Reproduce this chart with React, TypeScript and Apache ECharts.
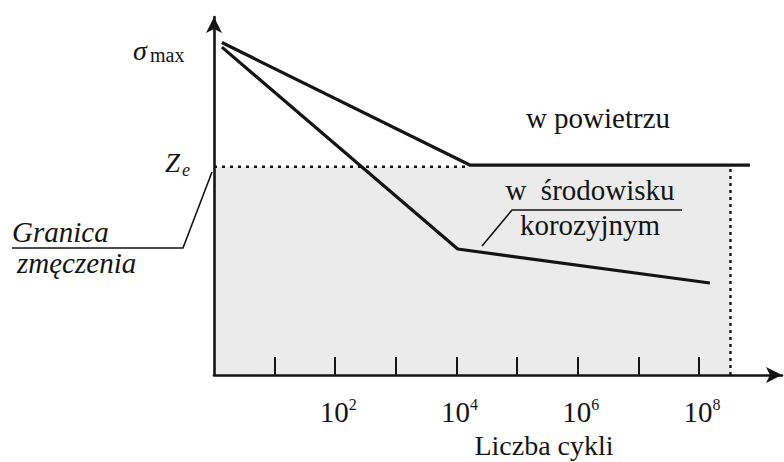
import { useEffect, useRef } from "react";
import * as echarts from "echarts";

// x values are log10 of the number of cycles
const xTickExponents = [1, 2, 3, 4, 5, 6, 7, 8];
const xLabelExponents = [2, 4, 6, 8];

const airLogN = [0.13, 4.22, 8.84];
const airStress = [95, 60, 60];

const corrosiveLogN = [0.13, 4.02, 8.18];
const corrosiveStress = [93.7, 36, 26.3];

const fatigueLimit = 59.5; // Z_e
const limitLogN = [0, 4.22];
const shadeEndLogN = 8.52;

const X_MAX = 9.37;
const Y_MAX = 102.3;
const FONT = '"Liberation Serif", "Times New Roman", serif';
const INK = "#141414";

const zip = (a: number[], b: number[]) => a.map((v, i) => [v, b[i]]);

export default function App() {
  const ref = useRef<HTMLDivElement>(null);

  useEffect(() => {
    if (!ref.current) return;
    document.body.style.margin = "0";
    document.body.style.padding = "0";
    const chart = echarts.init(ref.current, null, { renderer: "svg", width: 784, height: 462 });

    const txt = (
      text: string,
      x: number,
      y: number,
      size: number,
      opts: { italic?: boolean; align?: string } = {}
    ) => ({
      type: "text",
      x,
      y,
      z: 20,
      silent: true,
      style: {
        text,
        fontFamily: FONT,
        fontSize: size,
        fontStyle: opts.italic ? "italic" : "normal",
        fill: INK,
        align: opts.align || "left",
        verticalAlign: "middle",
      },
    });

    const thin = (points: number[][]) => ({
      type: "polyline",
      z: 20,
      silent: true,
      shape: { points },
      style: { stroke: INK, lineWidth: 1.6, fill: null },
    });

    const option: any = {
      animation: false,
      backgroundColor: "#ffffff",
      tooltip: { show: false },
      grid: {
        left: 214,
        right: 2,
        top: 17,
        bottom: 87,
        containLabel: false,
        outerBoundsMode: "none",
      },
      xAxis: {
        type: "value",
        min: 0,
        max: X_MAX,
        z: 5,
        axisLine: {
          show: true,
          onZero: false,
          symbol: ["none", "arrow"],
          symbolSize: [12, 16],
          lineStyle: { color: INK, width: 2.6 },
        },
        axisTick: {
          show: true,
          inside: true,
          length: 18,
          customValues: xTickExponents,
          lineStyle: { color: INK, width: 2 },
        },
        axisLabel: {
          show: true,
          customValues: xLabelExponents,
          margin: 21,
          padding: [0, 0, 0, 6],
          formatter: (v: number) => `{b|10}{s|${v}}`,
          rich: {
            b: { fontFamily: FONT, fontSize: 29, color: INK, lineHeight: 32 },
            s: {
              fontFamily: FONT,
              fontSize: 16,
              color: INK,
              lineHeight: 16,
              verticalAlign: "top",
            },
          },
        },
        splitLine: { show: false },
      },
      yAxis: {
        type: "value",
        min: 0,
        max: Y_MAX,
        z: 5,
        axisLine: {
          show: true,
          onZero: false,
          symbol: ["none", "arrow"],
          symbolSize: [12, 16],
          lineStyle: { color: INK, width: 2.6 },
        },
        axisTick: { show: false },
        axisLabel: { show: false },
        splitLine: { show: false },
      },
      series: [
        {
          type: "line",
          name: "obszar",
          z: 1,
          data: [[0, 0]],
          symbol: "none",
          lineStyle: { width: 0 },
          silent: true,
          markArea: {
            silent: true,
            itemStyle: { color: "#ebebeb" },
            data: [[{ coord: [0, 0] }, { coord: [shadeEndLogN, fatigueLimit] }]],
          },
        },
        {
          type: "line",
          name: "Ze",
          z: 3,
          data: limitLogN.map((x) => [x, fatigueLimit]),
          symbol: "none",
          silent: true,
          lineStyle: { color: INK, width: 2.6, type: [3, 5] },
        },
        {
          type: "line",
          name: "granica",
          z: 3,
          data: [
            [shadeEndLogN, 0],
            [shadeEndLogN, fatigueLimit],
          ],
          symbol: "none",
          silent: true,
          lineStyle: { color: INK, width: 2.4, type: [3, 4] },
        },
        {
          type: "line",
          name: "w powietrzu",
          z: 4,
          data: zip(airLogN, airStress),
          symbol: "none",
          silent: true,
          lineStyle: { color: INK, width: 3.2 },
        },
        {
          type: "line",
          name: "w środowisku korozyjnym",
          z: 4,
          data: zip(corrosiveLogN, corrosiveStress),
          symbol: "none",
          silent: true,
          lineStyle: { color: INK, width: 3.2 },
        },
      ],
      graphic: [
        txt("σ", 133, 50, 28, { italic: true }),
        txt("max", 150, 55, 20),
        txt("Z", 165, 163, 27, { italic: true }),
        txt("e", 182, 170, 18, { italic: true }),
        txt("Granica", 12, 232, 29, { italic: true }),
        txt("zmęczenia", 17, 263, 29, { italic: true }),
        thin([
          [12, 248],
          [183, 248],
          [212, 172],
        ]),
        txt("w powietrzu", 598, 118, 29, { align: "center" }),
        txt("w  środowisku", 590, 190, 29, { align: "center" }),
        txt("korozyjnym", 590, 225, 29, { align: "center" }),
        thin([
          [682, 210],
          [512, 210],
          [482, 246],
        ]),
        txt("Liczba cykli", 544, 445, 28, { align: "center" }),
      ],
    };

    chart.setOption(option);
    return () => chart.dispose();
  }, []);

  return <div ref={ref} style={{ width: 784, height: 462 }} />;
}
